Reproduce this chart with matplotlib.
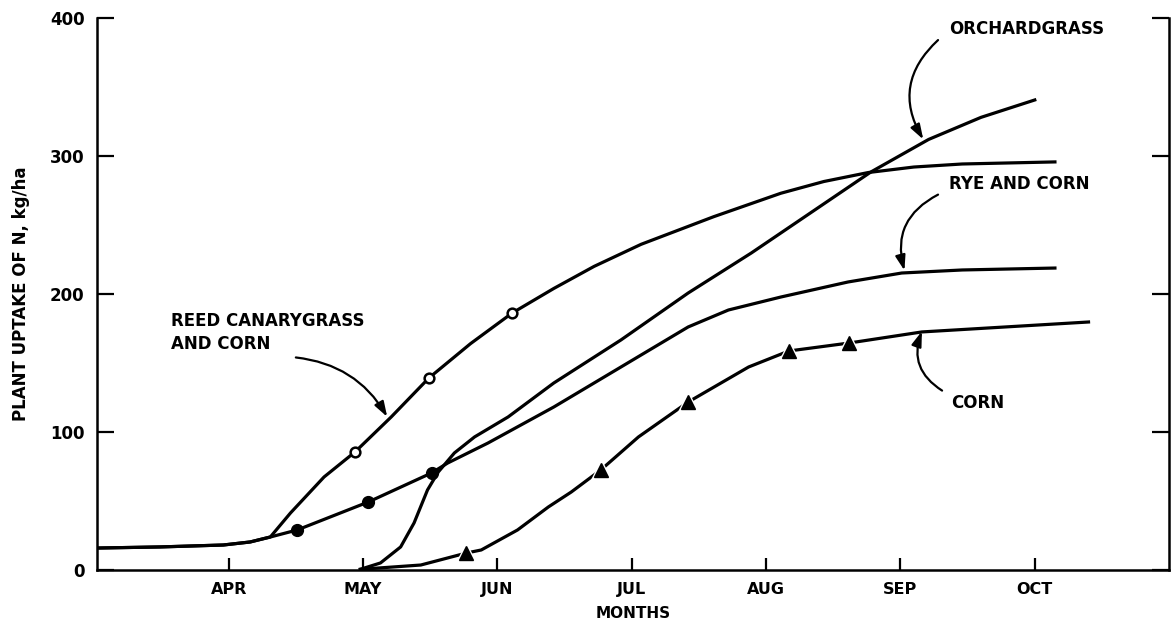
import matplotlib.pyplot as plt

plt.rcParams['font.family'] = ['DejaVu Sans']
plt.rcParams['font.weight'] = 'bold'
plt.rcParams['axes.labelweight'] = 'bold'

# month axis: APR=4 ... OCT=10
months = ['APR', 'MAY', 'JUN', 'JUL', 'AUG', 'SEP', 'OCT']
month_pos = [4, 5, 6, 7, 8, 9, 10]
y_ticks = [0, 100, 200, 300, 400]

# reed canarygrass and corn (open circles)
reed_x = [3.02, 3.49, 3.96, 4.16, 4.31, 4.46, 4.71, 4.94, 5.21, 5.49, 5.80, 6.11, 6.42, 6.72, 7.07, 7.61, 8.11, 8.43, 8.76, 9.10, 9.46, 10.15]
reed_y = [15.9, 16.7, 18.1, 20.3, 23.9, 41.3, 67.4, 85.5, 110.9, 139.1, 164.0, 186.2, 204.0, 220.0, 236.0, 256.0, 273.0, 281.5, 288.0, 292.0, 294.2, 295.7]
reed_mx = [4.94, 5.49, 6.11]
reed_my = [85.5, 139.1, 186.2]

# rye and corn (filled circles)
rye_x = [3.02, 3.49, 3.96, 4.16, 4.31, 4.51, 5.04, 5.51, 5.63, 5.93, 6.42, 6.92, 7.42, 7.72, 8.11, 8.61, 9.01, 9.46, 10.15]
rye_y = [15.9, 16.7, 18.1, 20.3, 23.9, 29.0, 49.3, 70.3, 77.5, 92.0, 118.1, 147.1, 176.1, 188.4, 197.8, 208.7, 215.2, 217.4, 218.8]
rye_mx = [4.51, 5.04, 5.51]
rye_my = [29.0, 49.3, 70.3]

# orchardgrass
orch_x = [4.98, 5.13, 5.28, 5.38, 5.48, 5.56, 5.68, 5.83, 6.08, 6.42, 6.92, 7.42, 7.89, 8.78, 9.21, 9.60, 10.00]
orch_y = [0.5, 5.1, 16.7, 34.1, 58.0, 71.0, 84.8, 96.4, 110.9, 135.5, 166.7, 200.7, 229.7, 288.4, 312.0, 328.0, 340.6]

# corn (triangles)
corn_x = [4.98, 5.43, 5.77, 5.88, 6.15, 6.38, 6.55, 6.77, 7.05, 7.42, 7.87, 8.17, 8.62, 9.16, 10.40]
corn_y = [0.5, 3.6, 12.3, 14.5, 29.0, 45.7, 56.5, 72.5, 96.4, 121.7, 147.1, 158.7, 164.5, 172.5, 179.7]
corn_mx = [5.77, 6.77, 7.42, 8.17, 8.62]
corn_my = [12.3, 72.5, 121.7, 158.7, 164.5]

fig = plt.figure(figsize=(11.73, 6.4), dpi=100)
ax = fig.add_axes([0.0827, 0.1094, 0.914, 0.8625])

lw = 2.3
ax.plot(reed_x, reed_y, color='black', lw=lw)
ax.plot(rye_x, rye_y, color='black', lw=lw)
ax.plot(orch_x, orch_y, color='black', lw=lw)
ax.plot(corn_x, corn_y, color='black', lw=lw)

ax.plot(reed_mx, reed_my, 'o', ms=7, mfc='white', mec='black', mew=1.8, zorder=4)
ax.plot(rye_mx, rye_my, 'o', ms=8.5, color='black', zorder=4)
# white halo so the line breaks round each triangle
ax.plot(corn_mx, corn_my, '^', ms=15, color='white', zorder=3)
ax.plot(corn_mx, corn_my, '^', ms=10, color='black', zorder=4)

arrow = dict(arrowstyle='-|>,head_length=0.9,head_width=0.3', color='black', lw=1.6,
             shrinkA=0, shrinkB=0)

ax.text(3.57, 172, 'REED CANARYGRASS\nAND CORN', fontsize=12, ha='left', va='center',
        linespacing=1.4)
ax.annotate('', xy=(5.18, 111), xytext=(4.50, 154),
            arrowprops=dict(arrow, connectionstyle='arc3,rad=-0.25'))

ax.text(9.36, 392, 'ORCHARDGRASS', fontsize=12, ha='left', va='center')
ax.annotate('', xy=(9.17, 312), xytext=(9.28, 384),
            arrowprops=dict(arrow, connectionstyle='arc3,rad=0.4'))

ax.text(9.36, 280, 'RYE AND CORN', fontsize=12, ha='left', va='center')
ax.annotate('', xy=(9.03, 217), xytext=(9.28, 272),
            arrowprops=dict(arrow, connectionstyle='arc3,rad=0.4'))

ax.text(9.38, 121, 'CORN', fontsize=12, ha='left', va='center')
ax.annotate('', xy=(9.16, 173), xytext=(9.31, 130),
            arrowprops=dict(arrow, connectionstyle='arc3,rad=-0.4'))

ax.set_xlim(3.02, 11.0)
ax.set_ylim(0, 400)
ax.set_xticks(month_pos)
ax.set_xticklabels(months)
ax.set_yticks(y_ticks)

ax.spines['top'].set_visible(False)
for s in ['left', 'right', 'bottom']:
    ax.spines[s].set_linewidth(1.8)

ax.tick_params(axis='y', direction='in', length=12, width=1.6, left=True, right=True,
               labelsize=12, pad=9)
ax.tick_params(axis='x', direction='in', length=9, width=1.6, labelsize=11.5, pad=9)

ax.set_xlabel('MONTHS', fontsize=11, labelpad=6)
ax.set_ylabel('PLANT UPTAKE OF N, kg/ha', fontsize=12, labelpad=14)

fig.savefig('out.png', dpi=100)
